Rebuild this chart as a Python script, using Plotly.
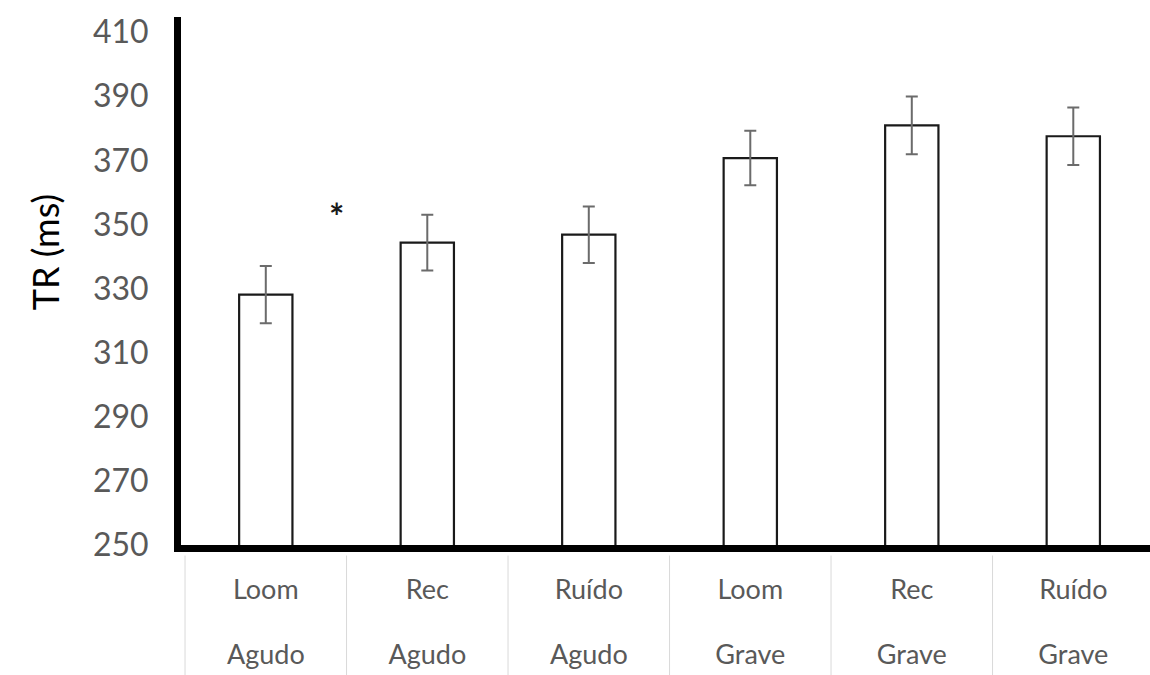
import plotly.graph_objects as go

# Reaction time (TR) per sound condition and pitch
conditions = ["Loom", "Rec", "Ruído", "Loom", "Rec", "Ruído"]
pitches = ["Agudo", "Agudo", "Agudo", "Grave", "Grave", "Grave"]
categories = [f"{c} {p}" for c, p in zip(conditions, pitches)]
tr_means = [328.1, 344.3, 346.8, 370.7, 380.9, 377.5]
tr_errors = [8.9, 8.7, 8.8, 8.5, 9.0, 9.0]
y_ticks = [250, 270, 290, 310, 330, 350, 370, 390, 410]

FONT = "Lato"
GREY = "#595959"

fig = go.Figure()

fig.add_trace(go.Bar(
    x=categories,
    y=tr_means,
    width=0.33,
    marker=dict(color="white", line=dict(color="#1a1a1a", width=2.2)),
    error_y=dict(type="data", array=tr_errors, visible=True,
                 color="#6b6b6b", thickness=2, width=6),
    xaxis="x", yaxis="y",
    showlegend=False, hoverinfo="skip",
))

# invisible twin so the second row of category labels has its own axis
fig.add_trace(go.Scatter(
    x=categories, y=tr_means, mode="markers",
    marker=dict(opacity=0), xaxis="x2", yaxis="y",
    showlegend=False, hoverinfo="skip",
))

x_range = [-0.525, 5.475]

fig.update_layout(
    width=1150, height=675,
    margin=dict(l=181, r=0, t=16.5, b=130),
    paper_bgcolor="white", plot_bgcolor="white",
    font=dict(family=FONT, color=GREY),
    xaxis=dict(
        type="category", categoryorder="array", categoryarray=categories,
        range=x_range,
        tickvals=categories, ticktext=conditions,
        showline=True, linecolor="black", linewidth=7,
        showgrid=False, ticks="", zeroline=False,
        tickfont=dict(size=27, color=GREY, family=FONT),
        ticklabelstandoff=15,
    ),
    xaxis2=dict(
        type="category", categoryorder="array", categoryarray=categories,
        range=x_range, overlaying="x", side="bottom", anchor="y",
        tickvals=categories, ticktext=pitches,
        showline=False, showgrid=False, ticks="", zeroline=False,
        tickfont=dict(size=27, color=GREY, family=FONT),
        ticklabelstandoff=91,
    ),
    yaxis=dict(
        range=[250, 414.7],
        tickvals=y_ticks,
        showline=True, linecolor="black", linewidth=7,
        showgrid=False, ticks="", zeroline=False,
        tickfont=dict(size=32, color=GREY, family=FONT),
        ticklabelstandoff=19,
    ),
)

# axis title, set a little above the middle of the value axis
fig.add_annotation(
    xref="x domain", yref="y domain",
    x=-136 / 969, y=293 / 528.5, xanchor="center", yanchor="middle",
    text="TR (ms)", textangle=-90, showarrow=False,
    font=dict(size=36, color="black", family=FONT),
)

# light separators between the category label cells
for i in range(len(categories) + 1):
    fig.add_shape(
        type="line", xref="x", yref="paper",
        x0=i - 0.5, x1=i - 0.5, y0=-0.02, y1=-0.26,
        line=dict(color="#d9d9d9", width=1), layer="below",
    )

# significance marker between Loom Agudo and Rec Agudo
fig.add_annotation(
    x=0.44, y=352.5, xref="x", yref="y", text="<b>*</b>", showarrow=False,
    font=dict(size=36, color="#1a1a1a", family=FONT),
)

fig.write_html("out.html")
